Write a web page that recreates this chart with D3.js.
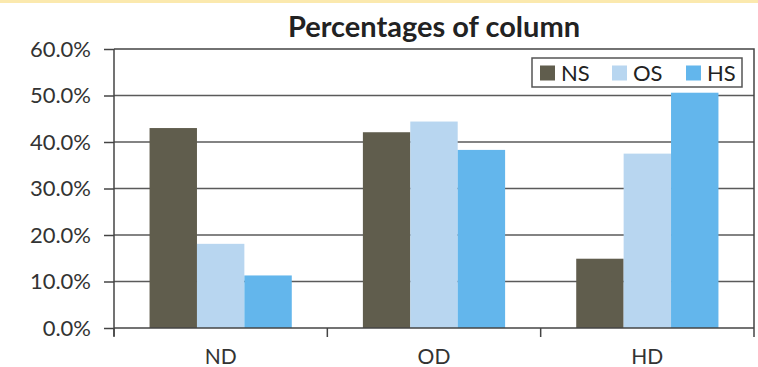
<!DOCTYPE html>
<html>
<head>
<meta charset="utf-8">
<script src="https://cdn.jsdelivr.net/npm/d3@7"></script>
<style>
  body { margin: 0; background: #fff; }
  svg { display: block; font-family: Lato, "Liberation Sans", sans-serif; }
</style>
</head>
<body>
<svg id="chart" width="758" height="367"></svg>
<script>
// data (share of each column, in %)
var categories = ["ND", "OD", "HD"];
var seriesNames = ["NS", "OS", "HS"];
var nsValues = [43.0, 42.1, 14.9];
var osValues = [18.1, 44.4, 37.5];
var hsValues = [11.3, 38.3, 50.6];
var yTicks = [0, 10, 20, 30, 40, 50, 60];

var colors = { NS: "#605d4d", OS: "#b8d6f0", HS: "#63b6ec" };
var values = { NS: nsValues, OS: osValues, HS: hsValues };

var svg = d3.select("#chart");
var margin = { top: 49, right: 4, bottom: 39, left: 114 };
var width = 758 - margin.left - margin.right,
    height = 367 - margin.top - margin.bottom;

// thin yellow strip at the very top
svg.append("rect").attr("x", 0).attr("y", 0).attr("width", 758).attr("height", 3)
  .attr("fill", "#fbe9ae");

var g = svg.append("g").attr("transform", "translate(" + margin.left + "," + margin.top + ")");

var x0 = d3.scaleBand().domain(categories).range([0, width]).paddingInner(0).paddingOuter(0);
// gap width 150% -> 1.5 bar widths between groups
var x1 = d3.scaleBand().domain(seriesNames).range([0, x0.bandwidth()]).paddingOuter(0.75).paddingInner(0);
var y = d3.scaleLinear().domain([0, 60]).range([height, 0]);

// gridlines
g.append("g").selectAll("line")
  .data(yTicks.filter(function (d) { return d > 0 && d < 60; }))
  .enter().append("line")
  .attr("x1", 0).attr("x2", width)
  .attr("y1", function (d) { return y(d); })
  .attr("y2", function (d) { return y(d); })
  .attr("stroke", "#5a5a5a").attr("stroke-width", 1.3);

// bars
var groups = g.append("g").selectAll("g")
  .data(categories)
  .enter().append("g")
  .attr("transform", function (d) { return "translate(" + x0(d) + ",0)"; });

groups.selectAll("rect")
  .data(function (d, i) { return seriesNames.map(function (s) { return { s: s, v: values[s][i] }; }); })
  .enter().append("rect")
  .attr("x", function (d) { return x1(d.s); })
  .attr("width", x1.bandwidth())
  .attr("y", function (d) { return y(d.v); })
  .attr("height", function (d) { return height - y(d.v); })
  .attr("fill", function (d) { return colors[d.s]; });

// plot border (top + right)
g.append("path")
  .attr("d", "M0,0H" + width + "V" + height)
  .attr("fill", "none").attr("stroke", "#444").attr("stroke-width", 1.5);

// y axis
var yAxis = g.append("g")
  .call(d3.axisLeft(y).tickValues(yTicks).tickSize(10).tickPadding(13)
    .tickFormat(function (d) { return d.toFixed(1) + "%"; }));
yAxis.select(".domain").attr("stroke", "#444").attr("stroke-width", 1.5).attr("d", "M0,0V" + (height + 8));
yAxis.selectAll(".tick line").attr("stroke", "#444").attr("stroke-width", 1.5);
yAxis.selectAll("text").attr("font-size", 22).attr("fill", "#333").attr("font-family", "Lato, sans-serif");

// x axis: ticks at the category boundaries
var xAxis = g.append("g").attr("transform", "translate(0," + height + ")");
xAxis.append("line").attr("x1", 0).attr("x2", width).attr("y1", 0).attr("y2", 0)
  .attr("stroke", "#444").attr("stroke-width", 1.5);
xAxis.selectAll(".xt")
  .data(categories.concat(["end"]))
  .enter().append("line")
  .attr("x1", function (d, i) { return i < categories.length ? x0(d) : width; })
  .attr("x2", function (d, i) { return i < categories.length ? x0(d) : width; })
  .attr("y1", 0).attr("y2", 9)
  .attr("stroke", "#444").attr("stroke-width", 1.5);
xAxis.selectAll(".xl")
  .data(categories)
  .enter().append("text")
  .attr("x", function (d) { return x0(d) + x0.bandwidth() / 2; })
  .attr("y", 36)
  .attr("text-anchor", "middle")
  .attr("font-size", 21).attr("fill", "#333")
  .text(function (d) { return d; });

// title
svg.append("text")
  .attr("x", margin.left + width / 2)
  .attr("y", 37)
  .attr("text-anchor", "middle")
  .attr("font-size", 29).attr("font-weight", "bold").attr("fill", "#222")
  .text("Percentages of column");

// legend
var legend = svg.append("g").attr("transform", "translate(532,58)");
legend.append("rect").attr("width", 210).attr("height", 29)
  .attr("fill", "#fff").attr("stroke", "#555").attr("stroke-width", 1.5);
var itemX = [8, 80, 154];
seriesNames.forEach(function (s, i) {
  legend.append("rect").attr("x", itemX[i]).attr("y", 7.5).attr("width", 15).attr("height", 15)
    .attr("fill", colors[s]);
  legend.append("text").attr("x", itemX[i] + 21).attr("y", 23)
    .attr("font-size", 22).attr("fill", "#222").text(s);
});
</script>
</body>
</html>
